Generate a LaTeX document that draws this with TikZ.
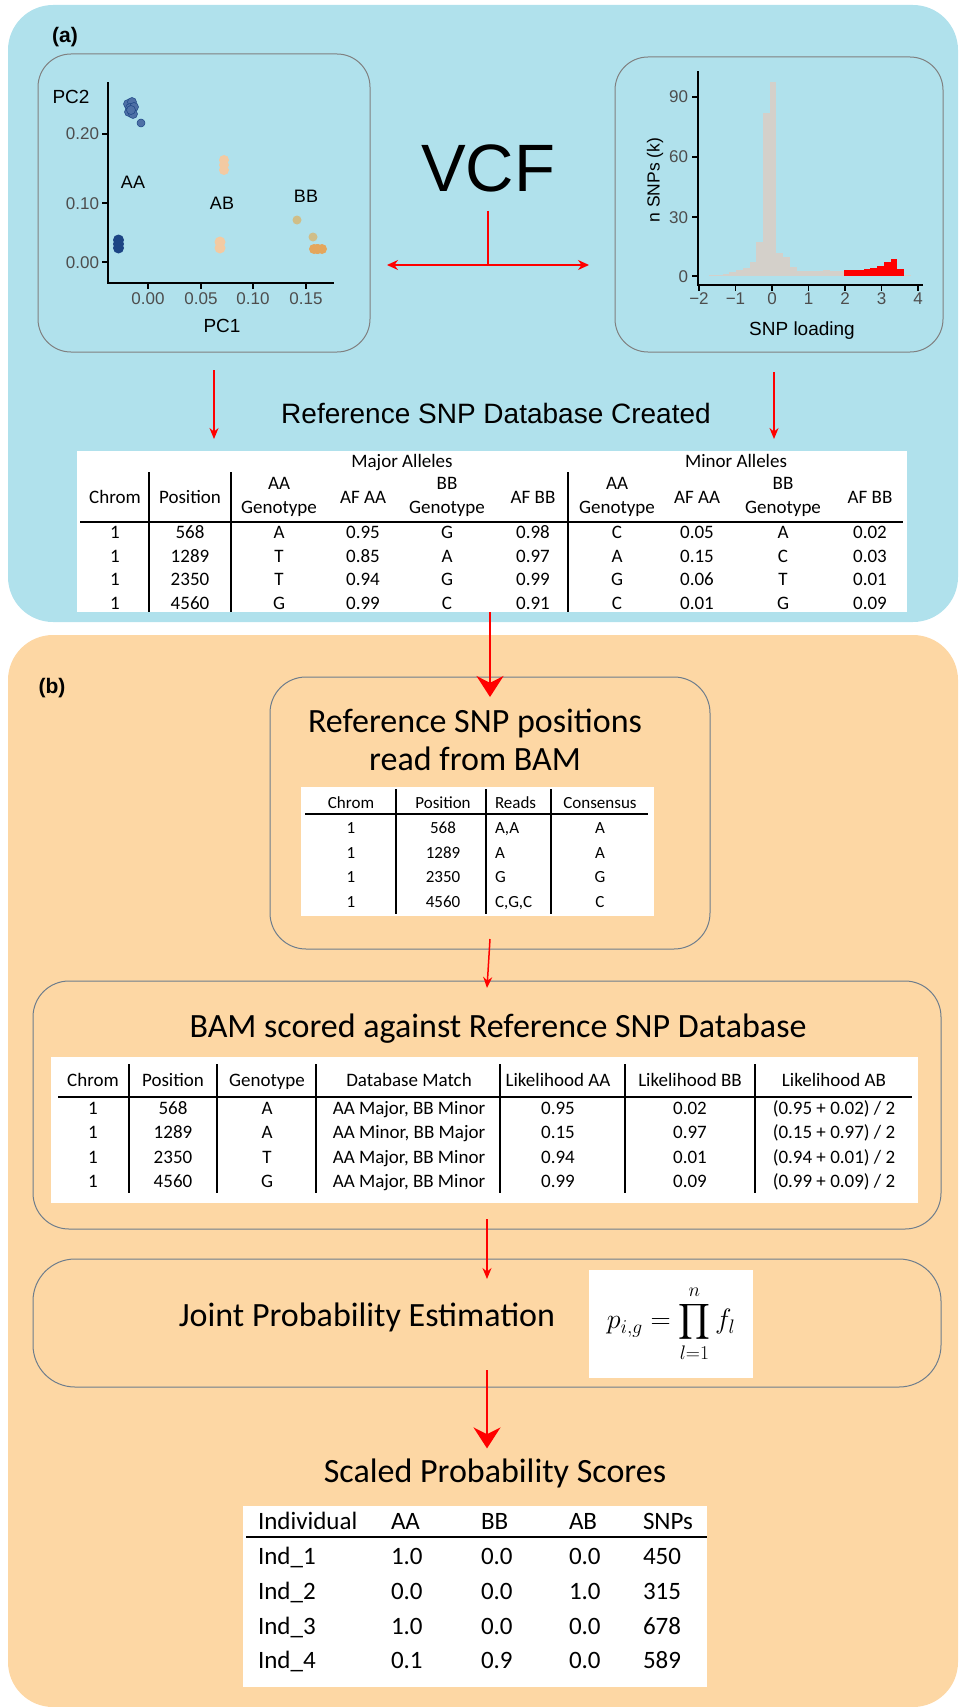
\documentclass[tikz,border=0pt]{standalone}
\usepackage{fix-cm}
\usepackage{exscale}
\usepackage[no-math]{fontspec}
\setmainfont{Liberation Sans}
\newfontfamily\calfont{Carlito}
\usepackage{tikz}
\usetikzlibrary{arrows.meta, positioning, calc}
\definecolor{panelblue}{RGB}{176,225,236}
\definecolor{panelorange}{RGB}{253,215,164}
\definecolor{plotline}{RGB}{128,128,128}
\definecolor{stepline}{RGB}{110,125,140}
\definecolor{tickgray}{RGB}{77,77,77}
\definecolor{histgray}{RGB}{212,208,202}
\definecolor{aadark}{RGB}{28,68,132}
\definecolor{aamid}{RGB}{78,112,166}
\definecolor{abpeach}{RGB}{243,202,162}
\definecolor{bbtan}{RGB}{208,190,136}
\definecolor{bborange}{RGB}{228,166,92}
\newcommand{\fsz}[2]{\fontsize{#1}{#2}\selectfont}

\begin{document}
\begin{tikzpicture}[
    x=1pt, y=-1pt,
    every node/.style={inner sep=0pt, outer sep=0pt},
    plotbox/.style={draw=plotline, line width=1pt, rounded corners=33pt},
    stepbox/.style={draw=stepline, line width=1pt, rounded corners=36pt},
    tabbox/.style={fill=white},
    axisline/.style={line width=1.3pt, line cap=rect},
    ticklabel/.style={font=\fsz{17}{20}, text=tickgray},
    axtitle/.style={font=\fsz{19}{22}},
    grp/.style={font=\fsz{18}{20}},
    panellabel/.style={font=\bfseries\fsz{21}{24}},
    steptitle/.style={font=\calfont\fsz{34}{38}, align=center},
    cell/.style={font=\calfont\fsz{19}{24}, align=center, anchor=base},
    smallcell/.style={font=\calfont\fsz{17}{20}, anchor=base},
    bigcell/.style={font=\calfont\fsz{25}{28}, anchor=base west},
    tabrule/.style={line width=1.4pt},
    arrow/.style={-{Stealth[length=11pt, width=9pt]}, draw=red, line width=1.5pt},
    bigarrow/.style={-{Stealth[length=21pt, width=27pt]}, draw=red, line width=1.8pt},
    link/.style={{Stealth[length=11pt, width=10pt]}-{Stealth[length=11pt, width=10pt]}, draw=red, line width=1.3pt}
]
\useasboundingbox (0,0) rectangle (958,1707);

% Panels
\fill[panelblue, rounded corners=45pt] (8,5) rectangle (958,622);
\fill[panelorange, rounded corners=45pt] (8,635) rectangle (958,1707);
\node[panellabel] (lbla) at (65,37) {(a)};
\node[panellabel] (lblb) at (52,688) {(b)};

% PCA plot
\node[plotbox, minimum width=332pt, minimum height=298pt] (pca) at (204,203) {};
\draw[axisline] (108,83) -- (108,283) -- (333,283);
\foreach \v/\y [count=\i] in {0.20/134, 0.10/203, 0.00/262} {
  \draw[axisline] (103,\y) -- (108,\y);
  \node[ticklabel, anchor=base east] (pcy\i) at (99,\y+6) {\v};
}
\foreach \v/\x [count=\i] in {0.00/148, 0.05/201, 0.10/253, 0.15/306} {
  \draw[axisline] (\x,283) -- (\x,288);
  \node[ticklabel, anchor=base] (pcx\i) at (\x,304) {\v};
}
\node[axtitle, anchor=base] (pc1) at (222,332) {PC1};
\node[axtitle, anchor=base] (pc2) at (71,104) {PC2};
\foreach \px/\py in {128/104,132/102,130/108,134/107,129/112,133/114,131/110}
  \filldraw[fill=aamid, draw=aadark, line width=0.5pt] (\px,\py) circle (4.5pt);
\filldraw[fill=aamid, draw=aadark, line width=0.5pt] (141,123) circle (4pt);
\foreach \py in {240,244,248}
  \fill[aadark] (118.5,\py) circle (5.5pt);
\foreach \py in {160,165,170}
  \fill[abpeach] (224,\py) circle (5pt);
\foreach \py in {242,248}
  \fill[abpeach] (220,\py) circle (5.5pt);
\fill[bbtan] (297,220) circle (4.5pt);
\fill[bbtan] (313,237) circle (4.5pt);
\foreach \px in {314,318,322,317}
  \fill[bborange] (\px,249) circle (5pt);
\node[grp, anchor=base] (aa) at (133,189) {AA};
\node[grp, anchor=base] (ab) at (222,209) {AB};
\node[grp, anchor=base] (bb) at (306,203) {BB};

% Loading histogram
\node[plotbox, minimum width=328pt, minimum height=295pt] (hist) at (779,204.5) {};
\foreach \h [count=\k from 0] in {0.3,0.6,1.2,2.2,3,4,7.2,17,82,97.5,11.5,9.5,4.5,2.7,2.3,2.3,2.3,2.8,2.5,2.3}
  \fill[histgray] ({772+36.5*(-1.72+0.184*\k)},276) rectangle ({772+36.5*(-1.536+0.184*\k)},{276-1.99*\h});
\foreach \h [count=\k from 0] in {2.8,2.8,2.8,3.4,3.9,5,7.2,8.4,3.5}
  \fill[red] ({772+36.5*(1.96+0.184*\k)},276) rectangle ({772+36.5*(2.144+0.184*\k)},{276-1.99*\h});
\fill[histgray] ({772+36.5*3.616},276) rectangle ({772+36.5*3.8},275.3);
\draw[axisline] (698,72) -- (698,285) -- (922,285);
\foreach \v/\y [count=\i] in {90/97, 60/157, 30/217, 0/276} {
  \draw[axisline] (693,\y) -- (698,\y);
  \node[ticklabel, anchor=base east] (hy\i) at (688,\y+6) {\v};
}
\foreach \v [count=\i from 0] in {−2,−1,0,1,2,3,4} {
  \draw[axisline] ({699+36.5*\i},285) -- ({699+36.5*\i},290);
  \node[ticklabel, anchor=base] (hx\i) at ({699+36.5*\i},304) {\v};
}
\node[axtitle, anchor=base] (load) at (802,335) {SNP loading};
\node[axtitle, rotate=90, font=\fsz{17.5}{20}] (nsnp) at (655,180) {n SNPs (k)};

% VCF split
\node[font=\fsz{67}{70}, anchor=base] (vcf) at (488,192) {VCF};
\coordinate (split) at (488,265);
\coordinate (pcaend) at (387,265);
\coordinate (histend) at (589,265);

% Reference SNP database
\node[font=\fsz{28}{32}, anchor=base] (dbtitle) at (496,423) {Reference SNP Database Created};
\node[tabbox, minimum width=830pt, minimum height=161pt] (db) at (492,531.5) {};
\node[cell] (major) at (402,467) {Major Alleles};
\node[cell] (minor) at (736,467) {Minor Alleles};
\foreach \txt/\x [count=\i] in {Chrom/115, Position/190, AA\\Genotype/279, AF AA/363, BB\\Genotype/447, AF BB/533, AA\\Genotype/617, AF AA/697, BB\\Genotype/783, AF BB/870}
  \node[cell, anchor=center] (dbh\i) at (\x,497) {\txt};
\foreach \x in {149,231,568}
  \draw[tabrule] (\x,472) -- (\x,612);
\draw[tabrule] (80,522) -- (903,522);
\foreach \row [count=\r] in {{1,568,A,0.95,G,0.98,C,0.05,A,0.02},{1,1289,T,0.85,A,0.97,A,0.15,C,0.03},{1,2350,T,0.94,G,0.99,G,0.06,T,0.01},{1,4560,G,0.99,C,0.91,C,0.01,G,0.09}} {
  \foreach \val [count=\c] in \row {
    \pgfmathsetmacro{\cx}{{115,190,279,363,447,533,617,697,783,870}[\c-1]}
    \node[cell] (db-\r-\c) at (\cx,{538.5+23.5*(\r-1)}) {\val};
  }
}

% Positions read from BAM
\node[stepbox, minimum width=440pt, minimum height=272pt] (refpos) at (490,813) {};
\node[steptitle] (refpostitle) at (475,740) {Reference SNP positions\\read from BAM};
\node[tabbox, minimum width=353pt, minimum height=129pt] (bamtab) at (477.5,851.5) {};
\foreach \x in {396,486,551}
  \draw[tabrule] (\x,789) -- (\x,914);
\draw[tabrule] (305,814) -- (648,814);
\foreach \row [count=\r from 0] in {{Chrom,Position,Reads,Consensus},{1,568,{A,A},A},{1,1289,A,A},{1,2350,G,G},{1,4560,{C,G,C},C}} {
  \foreach \val [count=\c] in \row {
    \pgfmathsetmacro{\cx}{{351,443,495,600}[\c-1]}
    \ifnum\c=3
      \node[smallcell, anchor=base west] (bam-\r-\c) at (\cx,{808.5+24.8*\r}) {\val};
    \else
      \node[smallcell] (bam-\r-\c) at (\cx,{808.5+24.8*\r}) {\val};
    \fi
  }
}

% Scoring
\node[stepbox, minimum width=908pt, minimum height=248pt] (scored) at (487,1105) {};
\node[steptitle, anchor=base] (scoredtitle) at (498,1037) {BAM scored against Reference SNP Database};
\node[tabbox, minimum width=867pt, minimum height=146pt] (scoretab) at (484.5,1130) {};
\foreach \x in {129,217,316,500,625,755}
  \draw[tabrule] (\x,1064) -- (\x,1193);
\draw[tabrule] (58,1097) -- (912,1097);
\foreach \row [count=\r from 0] in {{Chrom,Position,Genotype,Database Match,Likelihood AA,Likelihood BB,Likelihood AB},{1,568,A,{AA Major, BB Minor},0.95,0.02,(0.95 + 0.02) / 2},{1,1289,A,{AA Minor, BB Major},0.15,0.97,(0.15 + 0.97) / 2},{1,2350,T,{AA Major, BB Minor},0.94,0.01,(0.94 + 0.01) / 2},{1,4560,G,{AA Major, BB Minor},0.99,0.09,(0.99 + 0.09) / 2}} {
  \foreach \val [count=\c] in \row {
    \pgfmathsetmacro{\cx}{{93,173,267,409,558,690,834}[\c-1]}
    \pgfmathsetmacro{\cy}{\r==0 ? 1086 : 1089.5+24.6*\r}
    \node[cell] (sc-\r-\c) at (\cx,\cy) {\val};
  }
}

% Joint probability
\node[stepbox, rounded corners=42pt, minimum width=908pt, minimum height=128pt] (joint) at (487,1323) {};
\node[steptitle, anchor=base] (jointtitle) at (367,1326) {Joint Probability Estimation};
\node[tabbox, minimum width=164pt, minimum height=108pt, font=\fsz{28}{32}] (formula) at (671,1324) {$\displaystyle p_{i,g} = \prod_{l=1}^{n} f_l$};

% Scaled scores
\node[steptitle, anchor=base] (scorestitle) at (495,1482) {Scaled Probability Scores};
\node[tabbox, minimum width=464pt, minimum height=181pt] (scaletab) at (475,1596.5) {};
\draw[line width=1.1pt] (246,1537) -- (707,1537);
\foreach \row [count=\r from 0] in {{Individual,AA,BB,AB,SNPs},{Ind\_1,1.0,0.0,0.0,450},{Ind\_2,0.0,0.0,1.0,315},{Ind\_3,1.0,0.0,0.0,678},{Ind\_4,0.1,0.9,0.0,589}} {
  \foreach \val [count=\c] in \row {
    \pgfmathsetmacro{\cx}{{258,391,481,569,643}[\c-1]}
    \pgfmathsetmacro{\cy}{\r==0 ? 1529 : 1530+34.7*\r}
    \node[bigcell] (ps-\r-\c) at (\cx,\cy) {\val};
  }
}

% Connections
\draw[red, line width=1.3pt] ([yshift=-18pt]vcf.south) -- (split);
\draw[link] (pcaend) -- (histend);
\draw[arrow] ([xshift=10pt, yshift=-18pt]pca.south) -- ([xshift=10pt, yshift=-87pt]pca.south);
\draw[arrow] ([xshift=-5pt, yshift=-20pt]hist.south) -- ([xshift=-5pt, yshift=-87pt]hist.south);
\draw[bigarrow] (refpos.north |- db.south) -- ([yshift=-20pt]refpos.north);
\draw[arrow] ([yshift=10pt]refpos.south) -- ([yshift=-7pt]scored.north);
\draw[arrow] ([yshift=10pt]scored.south) -- ([yshift=-20pt]joint.north);
\draw[bigarrow] ([yshift=17pt]joint.south) -- ($(joint.south |- scorestitle.north)+(0,-10)$);

\end{tikzpicture}
\end{document}
